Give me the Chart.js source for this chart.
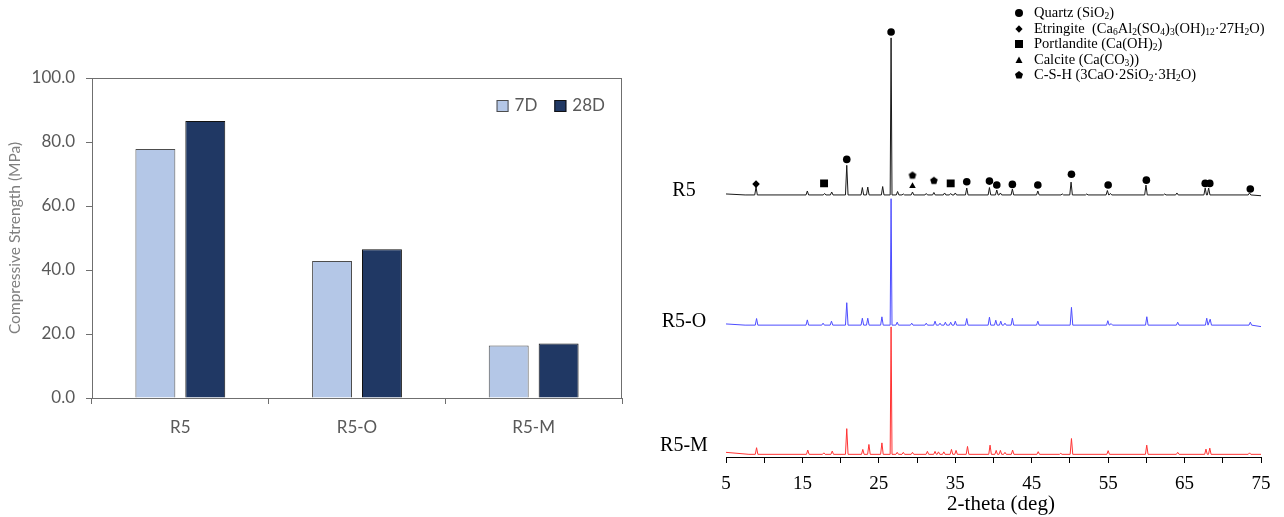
<!DOCTYPE html>
<html>
<head>
<meta charset="utf-8">
<script src="https://cdn.jsdelivr.net/npm/chart.js"></script>
<style>
  body { margin: 0; background: #fff; }
  #wrap { position: relative; width: 1284px; height: 517px; overflow: hidden; }
  #strength { position: absolute; left: 0; top: 0; }
  #xrd { position: absolute; left: 640px; top: 0; }
  #phases { position: absolute; left: 1008px; top: 5px; font-family: "Liberation Serif", serif; font-size: 14.5px; color: #000; }
  #phases div { height: 15.5px; line-height: 15.5px; white-space: pre; }
  #phases svg { display: inline-block; width: 22px; height: 15px; vertical-align: -3px; margin-right: 4px; }
  #phases sub { font-size: 9.5px; vertical-align: -2px; line-height: 0; }
</style>
</head>
<body>
<div id="wrap">
  <canvas id="strength" width="640" height="517"></canvas>
  <canvas id="xrd" width="644" height="517"></canvas>
  <div id="phases">
    <div><svg viewBox="0 0 22 15"><circle cx="11" cy="8" r="4"/></svg>Quartz (SiO<sub>2</sub>)</div>
    <div><svg viewBox="0 0 22 15"><path d="M11 4.3 L14.6 8 L11 11.7 L7.4 8 Z"/></svg>Etringite  (Ca<sub>6</sub>Al<sub>2</sub>(SO<sub>4</sub>)<sub>3</sub>(OH)<sub>12</sub>·27H<sub>2</sub>O)</div>
    <div><svg viewBox="0 0 22 15"><rect x="7" y="4" width="8" height="8"/></svg>Portlandite (Ca(OH)<sub>2</sub>)</div>
    <div><svg viewBox="0 0 22 15"><path d="M11 4.5 L14.5 11 L7.5 11 Z"/></svg>Calcite (Ca(CO<sub>3</sub>))</div>
    <div><svg viewBox="0 0 22 15"><path d="M11 4 L15 7 L13.5 11.5 L8.5 11.5 L7 7 Z"/></svg>C-S-H (3CaO·2SiO<sub>2</sub>·3H<sub>2</sub>O)</div>
  </div>
</div>
<script>
// compressive strength (MPa)
const groups = ['R5', 'R5-O', 'R5-M'];
const strength7D = [77.8, 42.8, 16.4];
const strength28D = [86.6, 46.5, 17.0];

// XRD traces: [2-theta, peak height above baseline]
const r5Peaks = [[8.93, 8], [15.64, 4], [17.9, 1.5], [18.83, 3], [20.8, 30], [22.84, 7.5], [23.55, 8],
  [25.5, 8.5], [26.6, 159], [27.45, 3.5], [28.2, 1], [29.4, 3], [31.2, 1.5], [32.2, 2.5], [33.6, 2],
  [34.4, 1.5], [35.0, 2], [36.5, 7], [39.47, 7.5], [40.43, 5], [40.9, 2], [42.47, 6], [45.8, 4],
  [49.0, 1], [50.15, 13], [52.2, 1], [54.9, 4.5], [55.3, 1.5], [59.95, 10], [62.4, 1], [64.0, 2],
  [67.7, 7], [68.15, 7], [73.5, 2]];
const r5oPeaks = [[9.0, 6.7], [15.64, 5.3], [17.7, 2], [18.8, 4], [20.8, 22.7], [22.84, 7], [23.55, 7],
  [25.4, 8.4], [26.6, 128], [27.4, 3], [29.3, 2], [31.2, 2], [32.35, 4], [33.0, 2], [33.7, 3], [34.4, 3],
  [35.0, 4], [36.5, 6.7], [39.47, 8], [40.3, 5], [40.95, 4], [41.5, 2], [42.47, 7], [45.8, 4], [50.2, 18],
  [54.96, 4.5], [55.4, 1.5], [60.06, 8.5], [64.1, 3], [67.9, 7], [68.35, 6], [73.6, 3]];
const r5mPeaks = [[9.0, 6.7], [15.7, 4.3], [17.8, 1.5], [18.9, 3.3], [20.8, 26], [22.9, 5], [23.7, 10],
  [25.4, 11.6], [26.6, 129], [27.4, 2], [28.2, 2], [29.4, 2], [31.35, 3], [32.35, 3], [32.8, 2.5],
  [33.5, 2.5], [34.5, 5], [35.1, 4], [36.6, 8], [39.55, 9.3], [40.35, 4], [40.9, 4], [41.5, 2],
  [42.5, 4.3], [45.85, 2.7], [48.8, 1], [50.2, 16], [55.0, 3.7], [60.05, 9.3], [64.1, 2], [67.8, 5.3],
  [68.3, 6.3], [73.5, 1.5]];
// baseline ends [2-theta, level]
const r5Ends = [[5, 1], [7.5, 0], [75, -0.8]];
const r5oEnds = [[5, 1.2], [7.5, 0], [75, -1.5]];
const r5mEnds = [[5, 2], [8, 0], [75, 0]];
const sampleNames = ['R5', 'R5-O', 'R5-M'];
const sampleOffsets = [265.3, 133.5, 2.7];
const sampleLabelY = [270, 137, 11];

// phase markers [2-theta, level]
const quartzMarks = [[26.6, 430.3], [20.8, 301.3], [36.5, 278.7], [39.47, 279.3], [40.43, 275.3],
  [42.47, 276], [45.8, 275.3], [50.2, 286.3], [55.0, 275.3], [60.0, 280.3], [67.7, 277], [68.3, 277],
  [73.6, 271.3]];
const ettringiteMarks = [[8.93, 276.3]];
const portlanditeMarks = [[17.83, 277], [34.4, 277]];
const calciteMarks = [[29.4, 274.3]];
const cshMarks = [[29.4, 285], [32.2, 279.7]];

const grey = '#6f6f6f';

// left: bar chart
const frame = {
  id: 'frame',
  afterDraw(chart) {
    const a = chart.chartArea, c = chart.ctx;
    c.save();
    c.strokeStyle = grey;
    c.lineWidth = 1;
    c.strokeRect(a.left + 0.5, a.top + 0.5, a.right - a.left - 1, a.bottom - a.top);
    c.restore();
  }
};

// legend inside the plot, top right
const boxLegend = {
  id: 'boxLegend',
  afterDraw(chart) {
    const a = chart.chartArea, c = chart.ctx;
    c.save();
    c.font = '17px Lato';
    c.textBaseline = 'middle';
    let x = a.right - 17;
    const y = a.top + 28;
    const sets = chart.data.datasets.slice().reverse();
    sets.forEach(ds => {
      const w = c.measureText(ds.label).width;
      x -= w;
      c.fillStyle = '#595959';
      c.fillText(ds.label, x, y);
      x -= 6 + 12;
      c.fillStyle = ds.backgroundColor;
      c.fillRect(x, y - 6, 12, 12);
      c.strokeStyle = ds.borderColor;
      c.lineWidth = 1;
      c.strokeRect(x + 0.5, y - 5.5, 11, 11);
      x -= 17;
    });
    c.restore();
  }
};

new Chart(document.getElementById('strength'), {
  type: 'bar',
  data: {
    labels: groups,
    datasets: [{
      label: '7D',
      data: strength7D,
      backgroundColor: '#b4c7e7',
      borderColor: '#4d4d4d',
      borderWidth: 1,
    }, {
      label: '28D',
      data: strength28D,
      backgroundColor: '#203864',
      borderColor: '#111',
      borderWidth: 1,
    }]
  },
  options: {
    responsive: false,
    animation: false,
    categoryPercentage: 0.565,
    barPercentage: 0.8,
    layout: { padding: { left: 0, right: 18, top: 78, bottom: 79 } },
    plugins: {
      tooltip: { enabled: false },
      legend: { display: false }
    },
    scales: {
      x: {
        grid: { drawOnChartArea: false, tickLength: 6, color: grey, offset: true },
        border: { color: grey },
        ticks: { color: '#595959', font: { family: 'Lato', size: 17 }, padding: 13 },
        afterFit: s => { s.height = 40; }
      },
      y: {
        min: 0, max: 100,
        grid: { drawOnChartArea: false, tickLength: 6, color: grey },
        border: { color: grey },
        ticks: { stepSize: 20, padding: 11, color: '#595959', font: { family: 'Lato', size: 17 },
          callback: v => v.toFixed(1) },
        title: { display: true, text: 'Compressive Strength (MPa)', color: '#7f7f7f',
          font: { family: 'Lato', size: 15.5 }, padding: { top: 6, bottom: 0 } },
        afterFit: s => { s.width = 92; }
      }
    }
  },
  plugins: [frame, boxLegend]
});

// right: XRD patterns
function trace(peaks, ends, offset) {
  const pts = ends.map(e => ({ x: e[0], y: offset + e[1] }));
  peaks.forEach(p => {
    const w = p[1] > 50 ? 0.12 : 0.17;
    pts.push({ x: p[0] - w, y: offset }, { x: p[0], y: offset + p[1] }, { x: p[0] + w, y: offset });
  });
  return pts.sort((a, b) => a.x - b.x);
}

function pentagon(r) {
  const c = document.createElement('canvas');
  c.width = c.height = Math.ceil(2 * r + 2);
  const g = c.getContext('2d');
  g.beginPath();
  for (let i = 0; i < 5; i++) {
    const a = -Math.PI / 2 + i * 2 * Math.PI / 5;
    g.lineTo(c.width / 2 + r * Math.cos(a), c.height / 2 + r * Math.sin(a));
  }
  g.closePath();
  g.fillStyle = '#000';
  g.fill();
  return c;
}

const marks = (pts, style, r) => ({
  data: pts.map(p => ({ x: p[0], y: p[1] })),
  showLine: false,
  pointStyle: style,
  pointRadius: r,
  backgroundColor: '#000',
  borderColor: '#000',
  borderWidth: 0,
});

const line = (pts, color) => ({
  data: pts,
  showLine: true,
  pointRadius: 0,
  borderColor: color,
  borderWidth: 1,
  tension: 0,
});

const xrdText = {
  id: 'xrdText',
  afterDraw(chart) {
    const c = chart.ctx, y = chart.scales.y;
    c.save();
    c.font = '20px "Liberation Serif"';
    c.fillStyle = '#000';
    c.textAlign = 'center';
    c.textBaseline = 'middle';
    sampleNames.forEach((n, i) => c.fillText(n, 44, y.getPixelForValue(sampleLabelY[i])));
    c.font = '21px "Liberation Serif"';
    c.fillText('2-theta (deg)', 361, 504);
    c.restore();
  }
};

new Chart(document.getElementById('xrd'), {
  type: 'scatter',
  data: {
    datasets: [
      marks(quartzMarks, 'circle', 3.8),
      marks(ettringiteMarks, 'rectRot', 3.8),
      marks(portlanditeMarks, 'rect', 5.6),
      marks(calciteMarks, 'triangle', 3.8),
      marks(cshMarks, pentagon(4), 4),
      line(trace(r5Peaks, r5Ends, sampleOffsets[0]), '#1a1a1a'),
      line(trace(r5oPeaks, r5oEnds, sampleOffsets[1]), '#4d4dff'),
      line(trace(r5mPeaks, r5mEnds, sampleOffsets[2]), '#ff3333'),
    ]
  },
  options: {
    responsive: false,
    animation: false,
    layout: { padding: { left: 86, right: 23, top: 0, bottom: 0 } },
    plugins: { legend: { display: false }, tooltip: { enabled: false } },
    scales: {
      x: {
        type: 'linear', min: 5, max: 75,
        grid: { drawOnChartArea: false, tickLength: 6, color: '#000' },
        border: { color: '#000' },
        ticks: { stepSize: 5, autoSkip: false, maxRotation: 0, padding: 10, color: '#000',
          font: { family: 'Liberation Serif', size: 19 },
          callback: v => (v - 5) % 10 === 0 ? v : '' },
        afterFit: s => { s.height = 60; }
      },
      y: { display: false, min: 0, max: 457 }
    }
  },
  plugins: [xrdText]
});
</script>
</body>
</html>
